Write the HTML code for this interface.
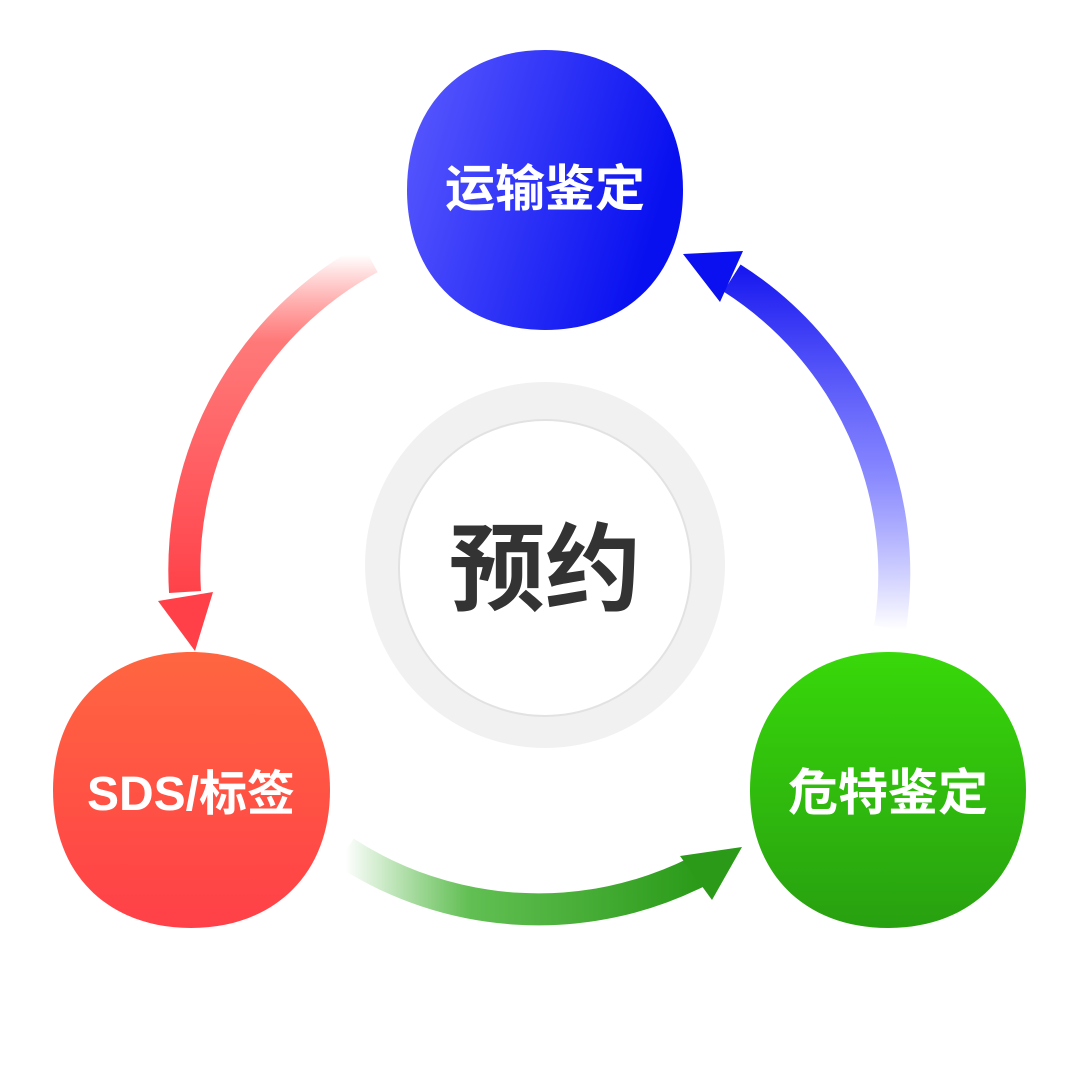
<!DOCTYPE html>
<html><head><meta charset="utf-8"><style>
html,body{margin:0;padding:0;background:#fff;width:1080px;height:1091px;overflow:hidden}
svg{display:block}
text{font-family:"Liberation Sans","Noto Sans CJK SC",sans-serif;font-weight:bold}
</style></head><body>
<svg width="1080" height="1091" viewBox="0 0 1080 1091" xmlns="http://www.w3.org/2000/svg">
<defs>
<linearGradient id="gb" x1="0" y1="0" x2="1" y2="0.3"><stop offset="0" stop-color="#5c5cff"/><stop offset="1" stop-color="#0810f0"/></linearGradient>
<linearGradient id="gr" x1="0" y1="0" x2="0" y2="1"><stop offset="0" stop-color="#ff6640"/><stop offset="1" stop-color="#ff4048"/></linearGradient>
<linearGradient id="gg" x1="0" y1="0" x2="0" y2="1"><stop offset="0" stop-color="#38d80a"/><stop offset="1" stop-color="#28a010"/></linearGradient>
<linearGradient id="ar" gradientUnits="userSpaceOnUse" x1="0" y1="255" x2="0" y2="600"><stop offset="0" stop-color="#ff4a4a" stop-opacity="0"/><stop offset="0.25" stop-color="#ff6a6a" stop-opacity="0.9"/><stop offset="1" stop-color="#ff4048"/></linearGradient>
<linearGradient id="ab" gradientUnits="userSpaceOnUse" x1="0" y1="630" x2="0" y2="270"><stop offset="0" stop-color="#3030ff" stop-opacity="0"/><stop offset="0.45" stop-color="#5050ff" stop-opacity="0.7"/><stop offset="1" stop-color="#1818f0"/></linearGradient>
<linearGradient id="ag" gradientUnits="userSpaceOnUse" x1="345" y1="0" x2="700" y2="0"><stop offset="0" stop-color="#40b030" stop-opacity="0"/><stop offset="0.35" stop-color="#50b840" stop-opacity="0.9"/><stop offset="1" stop-color="#2a9a18"/></linearGradient>
</defs>
<path d="M370,258 A355,355 0 0 0 185,592" fill="none" stroke="url(#ar)" stroke-width="32"/>
<polygon points="158,601 213,592 195,651" fill="#ff4048"/>
<path d="M890,628 A350,350 0 0 0 732,278" fill="none" stroke="url(#ab)" stroke-width="32"/>
<polygon points="683,254 743,251 720,302" fill="#0a10f0"/>
<path d="M345,852 A355,355 0 0 0 697,872" fill="none" stroke="url(#ag)" stroke-width="32"/>
<polygon points="680,856 742,847 712,900" fill="#2a9a18"/>
<ellipse cx="545" cy="565" rx="180" ry="183" fill="#f1f1f1"/>
<ellipse cx="545" cy="568" rx="146" ry="148" fill="#fff" stroke="#e2e2e2" stroke-width="2"/>
<text x="545" y="603" font-size="96" fill="#333" text-anchor="middle">预约</text>
<path d="M545,50 C627,50 683,105 683,190 C683,275 627,330 545,330 C463,330 407,275 407,190 C407,105 463,50 545,50 Z" fill="url(#gb)"/>
<text x="545" y="206" font-size="50" fill="#fff" text-anchor="middle">运输鉴定</text>
<path d="M191,652 C273,652 330,707 330,790 C330,875 273,928 191,928 C109,928 53,875 53,790 C53,707 109,652 191,652 Z" fill="url(#gr)"/>
<text x="191" y="810" font-size="48" fill="#fff" text-anchor="middle">SDS/标签</text>
<path d="M888,652 C970,652 1026,707 1026,790 C1026,875 970,928 888,928 C806,928 750,875 750,790 C750,707 806,652 888,652 Z" fill="url(#gg)"/>
<text x="888" y="810" font-size="50" fill="#fff" text-anchor="middle">危特鉴定</text>
</svg>
</body></html>
